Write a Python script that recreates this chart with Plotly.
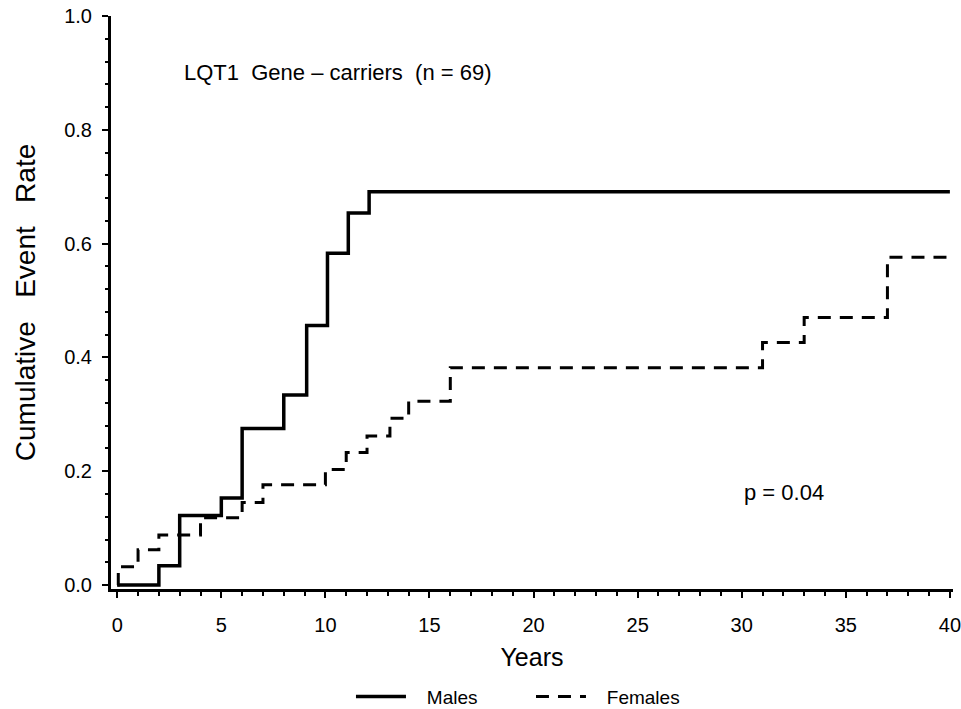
import plotly.graph_objects as go

# ---- data (Kaplan-Meier style cumulative event rates) ----
males_time = [0, 2, 3, 5, 6, 8, 9.1, 10.1, 11.1, 12.1]
males_rate = [0.0, 0.034, 0.122, 0.153, 0.275, 0.334, 0.456, 0.583, 0.654, 0.691]

females_time = [0, 0.05, 1.0, 2.0, 4.0, 6.0, 7.0, 10.0, 11.0, 12.0, 13.1, 14.0, 16.0, 31.0, 33.0, 37.0]
females_rate = [0.0, 0.032, 0.062, 0.088, 0.118, 0.145, 0.176, 0.203, 0.233, 0.262, 0.293, 0.323, 0.382, 0.426, 0.470, 0.576]

follow_up_end = 40

x_ticks = [0, 5, 10, 15, 20, 25, 30, 35, 40]
y_ticks = [0.0, 0.2, 0.4, 0.6, 0.8, 1.0]

FONT = "Liberation Sans, Arial, sans-serif"
SP = "\u00a0"

fig = go.Figure()
fig.add_trace(go.Scatter(
    x=males_time + [follow_up_end], y=males_rate + [males_rate[-1]],
    mode="lines", line=dict(shape="hv", color="black", width=3.5),
    name=SP * 3 + "Males",
))
fig.add_trace(go.Scatter(
    x=females_time + [follow_up_end], y=females_rate + [females_rate[-1]],
    mode="lines", line=dict(shape="hv", color="black", width=3, dash="13px,9px"),
    name=SP * 3 + "Females",
))

fig.add_annotation(x=3.1, y=0.90, xref="x", yref="y", xanchor="left", yanchor="middle",
                   text="LQT1" + SP * 2 + "Gene – carriers" + SP * 2 + "(n = 69)", showarrow=False,
                   font=dict(family=FONT, size=22, color="black"))
fig.add_annotation(x=30.0, y=0.162, xref="x", yref="y", xanchor="left", yanchor="middle",
                   text="p = 0.04", showarrow=False,
                   font=dict(family=FONT, size=22, color="black"))

fig.update_layout(
    width=961, height=709,
    margin=dict(l=111, r=8, t=16, b=120, autoexpand=False),
    paper_bgcolor="white", plot_bgcolor="white",
    font=dict(family=FONT, color="black"),
    showlegend=True,
    legend=dict(orientation="h", x=0.285, xanchor="left", y=-0.188, yanchor="middle",
                entrywidth=115, entrywidthmode="pixels", itemwidth=50,
                font=dict(family=FONT, size=19, color="black"),
                bgcolor="rgba(0,0,0,0)"),
    xaxis=dict(
        range=[-0.3, 40.15], tickvals=x_ticks, ticktext=[str(v) for v in x_ticks],
        automargin=False, ticklabeloverflow="allow",
        showline=True, linecolor="black", linewidth=3, mirror=False,
        ticks="outside", ticklen=6, tickwidth=2, tickcolor="black",
        minor=dict(dtick=1, tick0=0, ticks="outside", ticklen=4, tickwidth=2, tickcolor="black", showgrid=False),
        showgrid=False, zeroline=False,
        tickfont=dict(family=FONT, size=20, color="black"),
        ticklabelstandoff=10,
        title=dict(text="Years", font=dict(family=FONT, size=25, color="black"), standoff=14),
    ),
    yaxis=dict(
        range=[-0.007, 1.0], tickvals=y_ticks, ticktext=[f"{v:.1f}" for v in y_ticks],
        automargin=False, ticklabeloverflow="allow",
        showline=True, linecolor="black", linewidth=3, mirror=False,
        ticks="outside", ticklen=6, tickwidth=2, tickcolor="black",
        minor=dict(dtick=0.04, tick0=0, ticks="outside", ticklen=3, tickwidth=2, tickcolor="black", showgrid=False),
        showgrid=False, zeroline=False,
        tickfont=dict(family=FONT, size=20, color="black"),
        ticklabelstandoff=6,
        title=dict(text="Cumulative" + SP * 3 + "Event" + SP * 3 + "Rate",
                   font=dict(family=FONT, size=28, color="black"), standoff=21),
    ),
)

fig.write_html("out.html")
